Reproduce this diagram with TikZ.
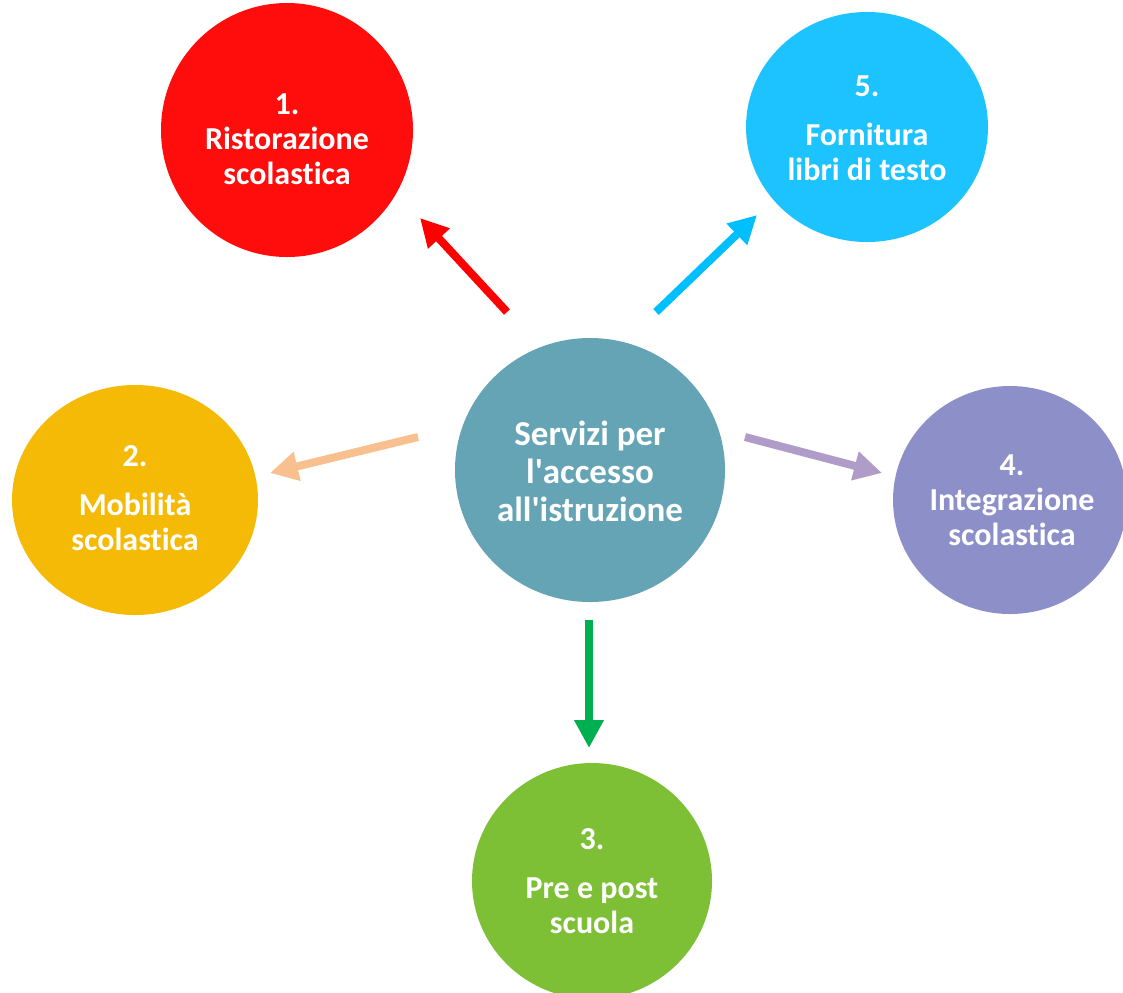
\documentclass[tikz,border=0pt]{standalone}
\usepackage{fontspec}
\setmainfont[Ligatures={NoCommon}]{Carlito}
\usetikzlibrary{shapes.geometric,arrows.meta}
\definecolor{cRed}{HTML}{FF0D0D}
\definecolor{cCyan}{HTML}{1CC3FF}
\definecolor{cYel}{HTML}{F5BA05}
\definecolor{cPur}{HTML}{8C8FC8}
\definecolor{cGrn}{HTML}{7DBF35}
\definecolor{cCtr}{HTML}{64A4B5}
\definecolor{aRed}{HTML}{FF0000}
\definecolor{aCyan}{HTML}{00BFFF}
\definecolor{aPeach}{HTML}{F8C08E}
\definecolor{aPur}{HTML}{B09CC8}
\definecolor{aGrn}{HTML}{00B050}
\tikzset{
  blob/.style={ellipse, inner sep=0pt, draw=none},
  lbl/.style={text=white, align=center, font=\fontsize{16}{17.5}\selectfont\bfseries},
  conn/.style={line width=4pt, -{Triangle[length=14pt,width=14pt]}}
}
\begin{document}
\begin{tikzpicture}[x=0.5pt,y=-0.5pt]
\useasboundingbox (0,0) rectangle (1123,992);
\clip (0,0) rectangle (1123,992);
\node[blob, fill=cCtr, minimum width=135pt, minimum height=132pt] (ctr) at (590,470) {};
\node[blob, fill=cRed, minimum width=126pt, minimum height=127pt] (n1) at (287,130) {};
\node[blob, fill=cCyan, minimum width=121pt, minimum height=115pt] (n5) at (867,127) {};
\node[blob, fill=cYel, minimum width=123pt, minimum height=115pt] (n2) at (135,500) {};
\node[blob, fill=cPur, minimum width=117pt, minimum height=114pt] (n4) at (1010,500) {};
\node[blob, fill=cGrn, minimum width=120pt, minimum height=118pt] (n3) at (592,881) {};

\node[lbl, font=\fontsize{17.5}{19}\selectfont\bfseries] (tctr) at (590,471) {Servizi per\\l\textquotesingle accesso\\all\textquotesingle istruzione};
\node[lbl] (t1) at (287,139) {1.\\Ristorazione\\scolastica};
\node[lbl] (t5) at (867,128) {5.\\[7pt]Fornitura\\libri di testo};
\node[lbl] (t2) at (135,498) {2.\\[7pt]Mobilità\\scolastica};
\node[lbl] (t4) at (1012,500) {4.\\Integrazione\\scolastica};
\node[lbl] (t3) at (592,881) {3.\\[7pt]Pre e post\\scuola};

\coordinate (r0) at (507,312); \coordinate (r1) at (420,218);
\coordinate (c0) at (656,312); \coordinate (c1) at (757,215);
\coordinate (p0) at (418,437); \coordinate (p1) at (270,473);
\coordinate (u0) at (745,437); \coordinate (u1) at (882,473);
\coordinate (g0) at (589,620); \coordinate (g1) at (589,748);
\draw[conn, aRed] (r0) -- (r1);
\draw[conn, aCyan] (c0) -- (c1);
\draw[conn, aPeach] (p0) -- (p1);
\draw[conn, aPur] (u0) -- (u1);
\draw[conn, aGrn] (g0) -- (g1);
\end{tikzpicture}
\end{document}
